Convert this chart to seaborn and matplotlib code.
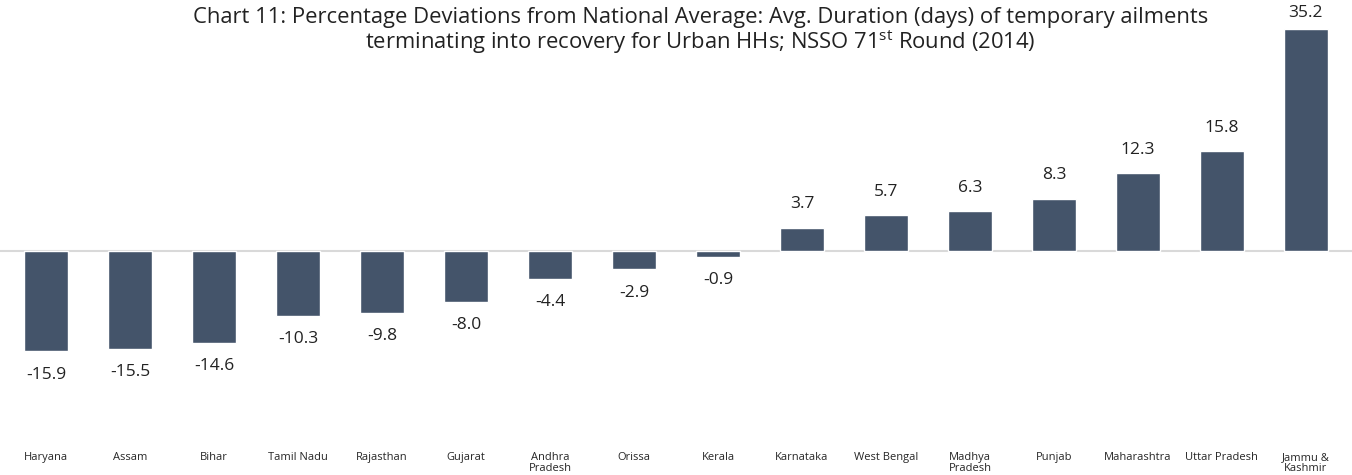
import pandas as pd
import matplotlib.pyplot as plt
import seaborn as sns

# data
states = ['Haryana', 'Assam', 'Bihar', 'Tamil Nadu', 'Rajasthan', 'Gujarat',
          'Andhra\nPradesh', 'Orissa', 'Kerala', 'Karnataka', 'West Bengal',
          'Madhya\nPradesh', 'Punjab', 'Maharashtra', 'Uttar Pradesh', 'Jammu &\nKashmir']
deviation = [-15.9, -15.5, -14.6, -10.3, -9.8, -8.0, -4.4, -2.9, -0.9,
             3.7, 5.7, 6.3, 8.3, 12.3, 15.8, 35.2]

df = pd.DataFrame({'State': states, 'Deviation': deviation})

#plot setting
sns.set_style('white')
plt.rcParams['font.family'] = ['Open Sans', 'DejaVu Sans']
plt.rcParams['mathtext.fontset'] = 'custom'
plt.rcParams['mathtext.rm'] = 'Open Sans'

fig = plt.figure(figsize=(13.52, 4.75), dpi=100)
ax = fig.add_axes([0.0, 24 / 475, 1.0, 451 / 475])

sns.barplot(data=df, x='State', y='Deviation', color='#44546A', width=0.52,
            saturation=1, ax=ax)

# zero line
ax.axhline(0, color='#D9D9D9', linewidth=1.5, zorder=0)

# data labels
for c in ax.containers:
    labels = ax.bar_label(c, fmt='%.1f', padding=11, fontsize=12.5, color='#222222')
    # tallest bar label sits closer to the bar (no room at the top)
    labels[-1].xyann = (0, 6)

ax.set_ylim(-31.7, 39.8)
ax.set_xlim(-0.55, len(states) - 0.45)
ax.set_xlabel('')
ax.set_ylabel('')
ax.set_yticks([])
ax.tick_params(axis='x', length=0, pad=1, labelsize=8)
for t in ax.get_xticklabels():
    t.set_linespacing(1.0)
for s in ax.spines.values():
    s.set_visible(False)

fig.text(0.518, 1 - 7 / 475,
         'Chart 11: Percentage Deviations from National Average: Avg. Duration (days) of temporary ailments\n'
         'terminating into recovery for Urban HHs; NSSO 71$^{\\mathrm{st}}$ Round (2014)',
         ha='center', va='top', fontsize=15.8, color='#222222', linespacing=1.0)

plt.savefig('out.png', dpi=100)
plt.close()
